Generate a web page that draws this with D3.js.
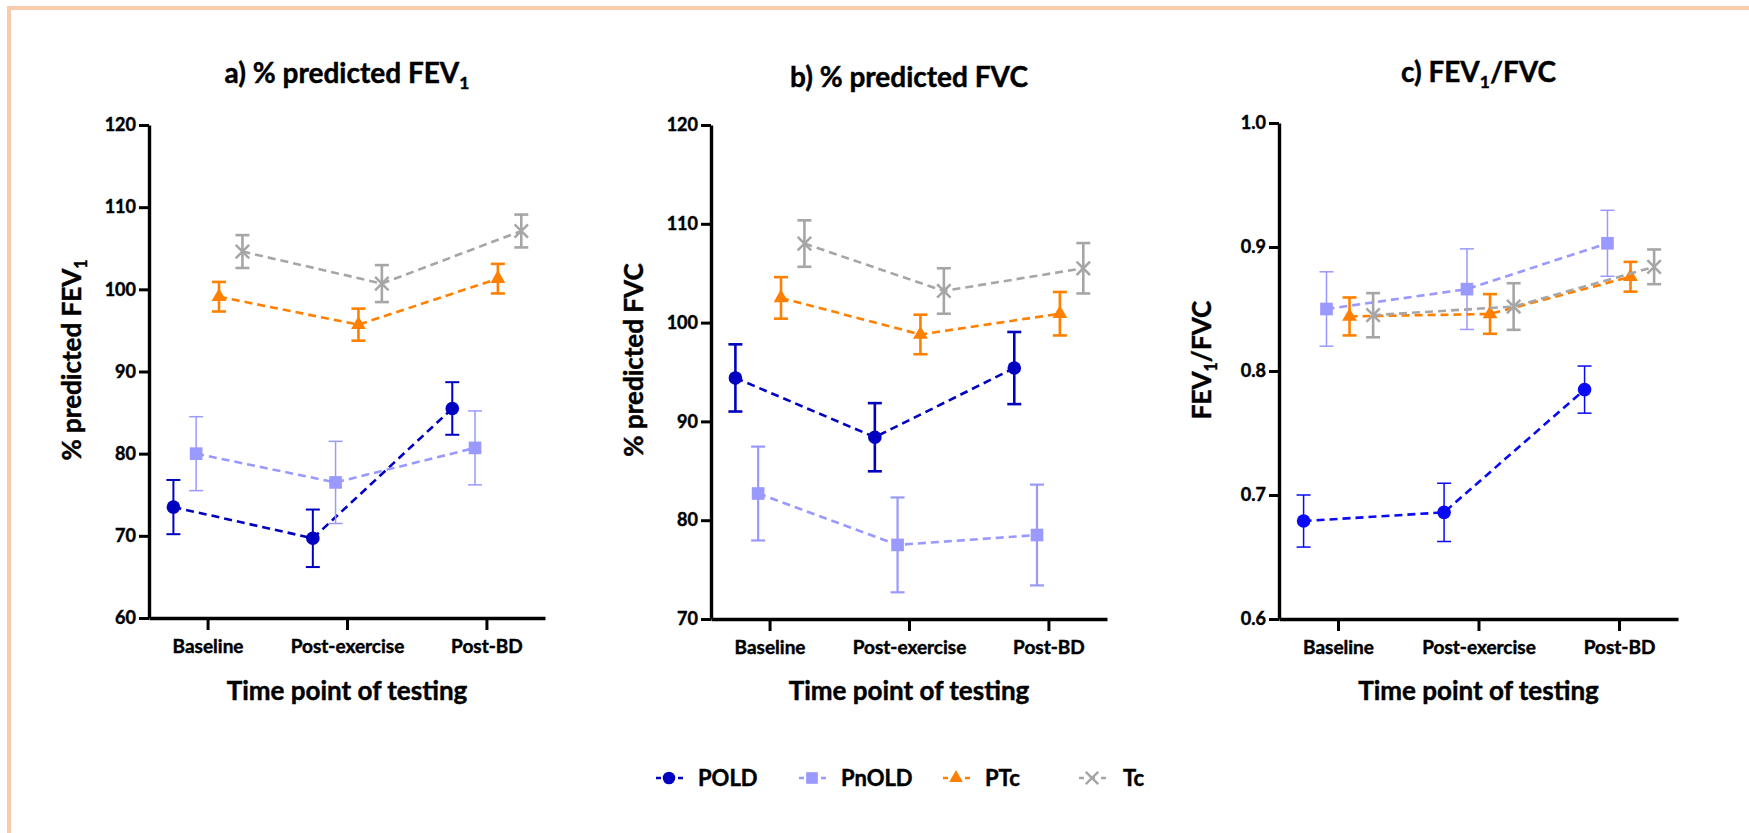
<!DOCTYPE html>
<html>
<head>
<meta charset="utf-8">
<script src="https://cdn.jsdelivr.net/npm/d3@7"></script>
<style>
  body { margin: 0; background: #fff; }
  svg { display: block; font-family: Lato, "Open Sans", sans-serif; font-weight: 700; }
  svg text { stroke: #000; stroke-width: 0.45px; }
</style>
</head>
<body>
<svg id="main-chart"></svg>
<script>
const categories = ["Baseline", "Post-exercise", "Post-BD"];
const groups = ["POLD", "PnOLD", "PTc", "Tc"];

// means / error bars, one row per group (POLD, PnOLD, PTc, Tc)
const fev1Means = [[73.5, 69.7, 85.5], [80.0, 76.5, 80.7], [99.1, 95.7, 101.3], [104.6, 100.7, 107.1]];
const fev1Errs = [[3.3, 3.5, 3.2], [4.5, 5.0, 4.5], [1.8, 1.95, 1.8], [2.0, 2.25, 2.0]];

const fvcMeans = [[94.4, 88.4, 95.4], [82.7, 77.5, 78.5], [102.5, 98.8, 100.9], [108.0, 103.2, 105.5]];
const fvcErrs = [[3.4, 3.45, 3.65], [4.75, 4.8, 5.1], [2.1, 2.0, 2.2], [2.35, 2.3, 2.55]];

const ratioMeans = [[0.679, 0.686, 0.785], [0.850, 0.866, 0.903], [0.844, 0.846, 0.876], [0.845, 0.852, 0.884]];
const ratioErrs = [[0.021, 0.0235, 0.019], [0.030, 0.0325, 0.0266], [0.0153, 0.016, 0.012], [0.0178, 0.0188, 0.014]];

const fev1Ticks = [60, 70, 80, 90, 100, 110, 120];
const fvcTicks = [70, 80, 90, 100, 110, 120];
const ratioTicks = [0.6, 0.7, 0.8, 0.9, 1.0];

const width = 1749, height = 833;
const colors = { POLD: "#0000c0", PnOLD: "#9999ff", PTc: "#ff8000", Tc: "#a6a6a6" };
const shapes = { POLD: d3.symbolCircle, PnOLD: d3.symbolSquare, PTc: d3.symbolTriangle, Tc: d3.symbolX };
const sizes = { POLD: 145, PnOLD: 160, PTc: 95, Tc: 120 };
const dodge = [-0.245, -0.082, 0.082, 0.25];

const svg = d3.select("#main-chart")
    .attr("width", width)
    .attr("height", height);

svg.append("rect").attr("width", width).attr("height", height).attr("fill", "#fff");

// cropped frame: only top and left edges show
svg.append("rect").attr("x", 7).attr("y", 6).attr("width", width - 7).attr("height", 4).attr("fill", "#f8cbad");
svg.append("rect").attr("x", 7).attr("y", 6).attr("width", 4).attr("height", height - 6).attr("fill", "#f8cbad");

const panels = [
    { title: ["a) % predicted FEV", "1", ""], ylab: ["% predicted FEV", "1", ""], means: fev1Means, errs: fev1Errs,
      domain: [60, 120], ticks: fev1Ticks, fmt: d3.format("d"),
      left: 149, top: 125, w: 396, h: 493, titleY: 83, poldColor: "#0000c0", poldErrW: 2, pnoldErrW: 1.5 },
    { title: ["b) % predicted FVC", "", ""], ylab: ["% predicted FVC", "", ""], means: fvcMeans, errs: fvcErrs,
      domain: [70, 120], ticks: fvcTicks, fmt: d3.format("d"),
      left: 711, top: 125, w: 396, h: 494, titleY: 87, poldColor: "#0000c0", poldErrW: 2.6, pnoldErrW: 2.2 },
    { title: ["c) FEV", "1", "/FVC"], ylab: ["FEV", "1", "/FVC"], means: ratioMeans, errs: ratioErrs,
      domain: [0.6, 1.0], ticks: ratioTicks, fmt: d3.format(".1f"),
      left: 1279, top: 123, w: 399, h: 496, titleY: 82, poldColor: "#0a0af5", poldErrW: 1.5, pnoldErrW: 1.5 }
];

function subText(sel, parts, size) {
    sel.append("tspan").text(parts[0]);
    if (parts[1]) {
        sel.append("tspan").attr("font-size", size * 0.62).attr("dy", size * 0.22).text(parts[1]);
        sel.append("tspan").attr("dy", -size * 0.22).text(parts[2]);
    }
}

panels.forEach(p => {
    const g = svg.append("g").attr("transform", `translate(${p.left},${p.top})`);

    const xScale = d3.scalePoint().domain(categories).range([0, p.w]).padding(0.42);
    const yScale = d3.scaleLinear().domain(p.domain).range([p.h, 0]);
    const step = xScale.step();
    const xPos = (gi, ci) => xScale(categories[ci]) + dodge[gi] * step;

    // title
    const t = svg.append("text")
        .attr("x", p.left + p.w / 2).attr("y", p.titleY)
        .attr("text-anchor", "middle").attr("font-size", 28);
    subText(t, p.title, 28);

    // y label
    const yl = svg.append("text")
        .attr("transform", `translate(${p.left - 68},360) rotate(-90)`)
        .attr("text-anchor", "middle").attr("font-size", 26);
    subText(yl, p.ylab, 26);

    // x axis title
    svg.append("text")
        .attr("x", p.left + p.w / 2).attr("y", 700)
        .attr("text-anchor", "middle").attr("font-size", 26)
        .text("Time point of testing");

    // axes
    const yAxis = g.append("g")
        .call(d3.axisLeft(yScale).tickValues(p.ticks).tickFormat(p.fmt).tickSize(10).tickSizeOuter(0).tickPadding(3));
    yAxis.selectAll("line").attr("stroke-width", 3);
    yAxis.select(".domain").attr("stroke-width", 3.4);
    yAxis.selectAll("text").attr("font-size", 18).attr("font-family", "Lato").attr("font-weight", 700).attr("fill", "#000");

    const xAxis = g.append("g")
        .attr("transform", `translate(0,${p.h})`)
        .call(d3.axisBottom(xScale).tickSize(12).tickSizeOuter(0));
    xAxis.select(".domain").attr("stroke-width", 3.4);
    xAxis.selectAll("line").attr("stroke-width", 3);
    xAxis.selectAll("text").attr("y", 35).attr("dy", 0)
        .attr("font-size", 19).attr("font-family", "Lato").attr("font-weight", 700).attr("fill", "#000");

    groups.forEach((grp, gi) => {
        const col = grp === "POLD" ? p.poldColor : colors[grp];
        const pts = categories.map((c, ci) => ({ x: xPos(gi, ci), m: p.means[gi][ci], e: p.errs[gi][ci] }));
        const errW = grp === "POLD" ? p.poldErrW : (grp === "PnOLD" ? p.pnoldErrW : 2.6);

        g.append("path")
            .datum(pts)
            .attr("fill", "none")
            .attr("stroke", col)
            .attr("stroke-width", 2.6)
            .attr("stroke-dasharray", "8,5")
            .attr("d", d3.line().x(d => d.x).y(d => yScale(d.m)));

        const eb = g.append("g").attr("stroke", col).attr("stroke-width", errW).attr("fill", "none");
        pts.forEach(d => {
            eb.append("line").attr("x1", d.x).attr("x2", d.x).attr("y1", yScale(d.m - d.e)).attr("y2", yScale(d.m + d.e));
            eb.append("line").attr("x1", d.x - 7).attr("x2", d.x + 7).attr("y1", yScale(d.m + d.e)).attr("y2", yScale(d.m + d.e));
            eb.append("line").attr("x1", d.x - 7).attr("x2", d.x + 7).attr("y1", yScale(d.m - d.e)).attr("y2", yScale(d.m - d.e));
        });

        const sym = d3.symbol().type(shapes[grp]).size(sizes[grp]);
        g.selectAll(null)
            .data(pts)
            .enter().append("path")
            .attr("transform", d => `translate(${d.x},${yScale(d.m)})`)
            .attr("d", sym)
            .attr("fill", grp === "Tc" ? "none" : col)
            .attr("stroke", grp === "Tc" ? col : "none")
            .attr("stroke-width", 2.5);
    });
});

// legend
const legendX = [669, 812, 956, 1092];
const legend = svg.append("g").attr("transform", "translate(0,778)");
groups.forEach((grp, gi) => {
    const col = colors[grp];
    const item = legend.append("g").attr("transform", `translate(${legendX[gi]},0)`);
    item.append("line").attr("x1", -13).attr("x2", 14).attr("stroke", col)
        .attr("stroke-width", 2.5).attr("stroke-dasharray", "5,6");
    item.append("path")
        .attr("d", d3.symbol().type(shapes[grp]).size(sizes[grp] * 0.85))
        .attr("fill", grp === "Tc" ? "none" : col)
        .attr("stroke", grp === "Tc" ? col : "none")
        .attr("stroke-width", 2.5);
    item.append("text").attr("x", gi === 3 ? 31 : 29).attr("y", 8)
        .attr("font-size", 22).text(grp);
});
</script>
</body>
</html>
